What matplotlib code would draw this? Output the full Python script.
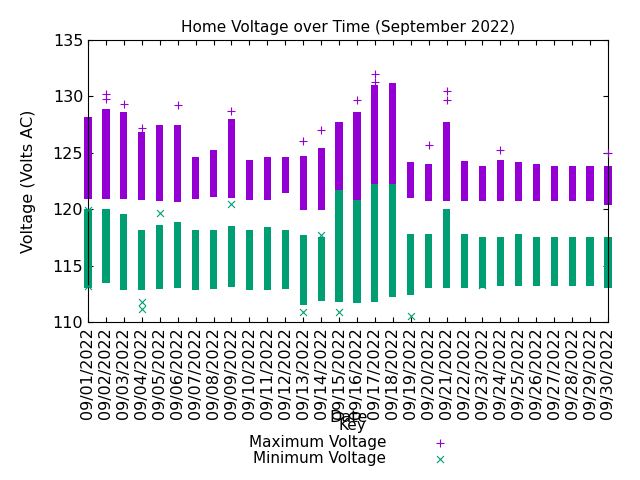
import matplotlib
matplotlib.use("Agg")
import matplotlib.pyplot as plt

days = list(range(1, 31))
labels = ["09/%02d/2022" % d for d in days]
max_top = [128.2,128.9,128.6,126.8,127.5,127.5,124.6,125.2,128.0,124.4,124.6,124.6,124.7,125.4,127.7,128.6,131.0,131.2,124.2,124.0,127.7,124.3,123.8,124.4,124.2,124.0,123.8,123.8,123.8,123.8]
max_bot = [120.9,120.9,120.9,120.8,120.7,120.6,120.9,121.1,121.0,120.8,120.8,121.4,119.9,119.9,119.6,119.4,120.9,121.0,121.0,120.7,120.7,120.7,120.7,120.7,120.7,120.7,120.7,120.7,120.7,120.4]
min_top = [120.0,120.0,119.6,118.2,118.6,118.9,118.2,118.2,118.5,118.2,118.4,118.2,117.7,117.5,121.7,120.8,122.2,122.2,117.8,117.8,120.0,117.8,117.5,117.5,117.8,117.5,117.5,117.5,117.5,117.5]
min_bot = [113.0,113.5,112.8,112.8,112.9,113.0,112.8,112.9,113.1,112.8,112.8,112.9,111.5,111.9,111.8,111.7,111.8,112.2,112.4,113.0,113.0,113.0,113.0,113.2,113.2,113.2,113.2,113.2,113.2,113.0]
max_out_day = [2,2,3,4,6,9,13,14,16,17,17,20,21,21,24,30]
max_out_val = [130.2,129.8,129.3,127.2,129.2,128.7,126.0,127.0,129.7,132.0,131.3,125.7,130.5,129.7,125.2,125.0]
min_out_day = [1,1,4,4,5,9,13,14,19,23,15]
min_out_val = [119.9,113.2,111.2,111.8,119.7,120.5,110.9,117.7,110.5,113.3,110.9]

purple = "#9400D3"
green = "#009E73"
fig, ax = plt.subplots(figsize=(6.4, 4.8), dpi=100)
fig.subplots_adjust(left=0.1375, right=0.95, top=0.917, bottom=0.329)
w = 0.4
ax.bar(days, [t - b for t, b in zip(max_top, max_bot)], bottom=max_bot, width=w, color=purple, clip_on=False, zorder=2)
ax.bar(days, [t - b for t, b in zip(min_top, min_bot)], bottom=min_bot, width=w, color=green, clip_on=False, zorder=2)
ax.scatter(max_out_day, max_out_val, marker="+", color=purple, s=30, linewidths=0.8, clip_on=False, zorder=3)
ax.scatter(min_out_day, min_out_val, marker="x", color=green, s=25, linewidths=0.8, clip_on=False, zorder=3)
hp = ax.scatter([], [], marker="+", color=purple, s=30, linewidths=0.8, label="Maximum Voltage")
hm = ax.scatter([], [], marker="x", color=green, s=25, linewidths=0.8, label="Minimum Voltage")

ax.set_xlim(1, 30)
ax.set_ylim(110, 135)
ax.set_xticks(days)
ax.set_xticklabels(labels, rotation=90, fontsize=11.5)
ax.set_yticks([110, 115, 120, 125, 130, 135])
ax.tick_params(axis="y", labelsize=11.5, direction="in", right=True)
ax.tick_params(axis="x", direction="in", top=True)
ax.set_ylabel("Voltage (Volts AC)", fontsize=11.5, labelpad=12)
ax.set_title("Home Voltage over Time (September 2022)", fontsize=11)
fig.text(0.545, 0.12, "Date", ha="center", fontsize=11.5)
leg = fig.legend(handles=[hp, hm], loc="lower center", bbox_to_anchor=(0.55, 0.0), title="Key",
                 frameon=False, fontsize=11, title_fontsize=11, markerfirst=False, handletextpad=2.5,
                 labelspacing=0.1)
fig.savefig("out.png")
